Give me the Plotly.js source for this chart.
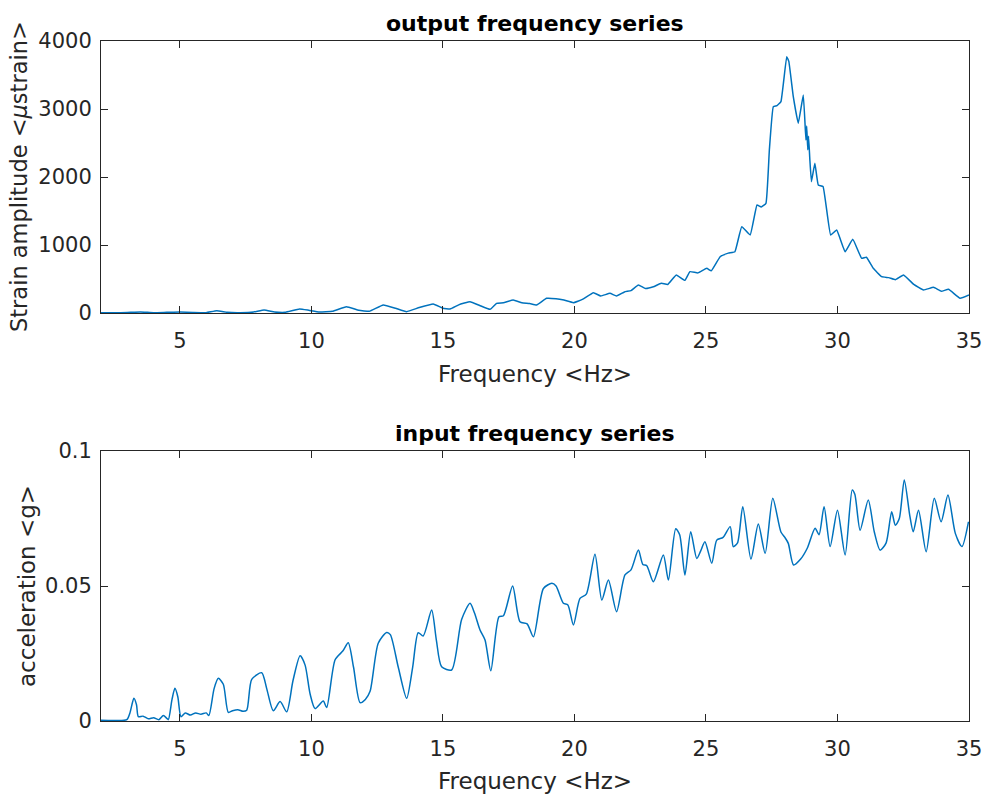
<!DOCTYPE html>
<html>
<head>
<meta charset="utf-8">
<script src="https://cdn.plot.ly/plotly-3.0.1.min.js"></script>
<style>html,body{margin:0;padding:0;background:#fff;}#chart{width:987px;height:797px;}</style>
</head>
<body>
<div id="chart"></div>
<script>
// ---- output frequency series (strain amplitude, microstrain) ----
const freqOut = [2.0,2.5,3.0,3.5,4.0,4.5,5.0,5.5,6.0,6.4,6.8,7.3,7.8,8.2,8.6,9.0,9.55,9.9,10.3,10.8,11.33,11.8,12.2,12.73,13.2,13.62,14.1,14.63,15.0,15.27,15.6,16.03,16.4,16.79,17.04,17.3,17.67,18.0,18.3,18.56,18.94,19.3,19.6,19.96,20.3,20.72,21.0,21.35,21.6,21.9,22.15,22.43,22.7,23.0,23.3,23.55,23.87,24.2,24.39,24.7,25.03,25.2,25.54,25.85,26.1,26.36,26.68,26.94,27.1,27.28,27.41,27.56,27.7,27.85,28.07,28.15,28.32,28.51,28.7,28.8,28.83,28.87,28.9,28.95,29.01,29.14,29.27,29.45,29.74,29.97,30.29,30.58,30.92,31.1,31.36,31.68,31.95,32.2,32.51,32.9,33.27,33.65,33.95,34.22,34.66,35.0];
const strainOut = [5,3,8,15,5,10,15,8,5,34,10,5,15,44,15,10,59,40,15,25,93,40,25,118,70,20,80,132,70,59,120,167,110,54,142,150,191,150,140,118,216,210,190,152,200,299,250,289,250,310,330,412,360,385,436,420,559,480,608,590,657,620,828,880,901,1269,1147,1588,1560,1613,2397,3034,3050,3108,3770,3700,3181,2790,3206,2544,2750,2400,2600,2250,1931,2201,1882,1860,1147,1221,901,1084,804,820,657,534,520,490,559,420,338,377,320,348,216,265];

// ---- input frequency series (acceleration, g) ----
const freqIn = [2.0,2.5,2.98,3.1,3.25,3.35,3.42,3.6,3.8,4.0,4.2,4.37,4.5,4.56,4.7,4.81,4.92,5.04,5.2,5.4,5.6,5.8,6.0,6.1,6.3,6.46,6.65,6.84,7.0,7.2,7.4,7.54,7.73,8.11,8.3,8.55,8.81,9.06,9.3,9.57,9.76,9.95,10.14,10.45,10.58,10.9,11.2,11.4,11.6,11.85,12.05,12.23,12.54,12.86,13.0,13.3,13.62,13.85,14.06,14.25,14.57,14.75,14.95,15.33,15.71,16.03,16.2,16.41,16.6,16.82,17.13,17.3,17.65,17.93,18.2,18.44,18.82,19.14,19.3,19.58,19.75,19.96,20.21,20.45,20.78,21.04,21.29,21.6,21.92,22.15,22.43,22.6,22.75,23.0,23.38,23.57,23.85,24.0,24.2,24.42,24.65,24.8,24.96,25.22,25.41,25.65,25.92,26.04,26.2,26.4,26.71,26.99,27.25,27.54,27.85,28.0,28.13,28.33,28.6,28.85,29.15,29.3,29.49,29.72,30.0,30.29,30.56,30.66,30.86,31.17,31.4,31.62,31.85,32.06,32.2,32.35,32.54,32.75,32.88,33.08,33.37,33.68,33.94,34.2,34.48,34.73,34.98];
const accIn = [0.0003,0.0002,0.0005,0.003,0.0084,0.006,0.0016,0.0018,0.0008,0.0012,0.0005,0.002,0.001,0.0005,0.008,0.0121,0.009,0.0016,0.003,0.0022,0.003,0.0025,0.003,0.002,0.012,0.0158,0.0136,0.0032,0.0038,0.0042,0.0036,0.004,0.0154,0.0179,0.012,0.0038,0.0072,0.0034,0.015,0.0242,0.0207,0.01,0.0046,0.0074,0.005,0.0227,0.026,0.029,0.02,0.0068,0.008,0.011,0.0288,0.0328,0.032,0.02,0.0084,0.02,0.0327,0.0315,0.0411,0.03,0.0201,0.0189,0.0376,0.0436,0.04,0.0337,0.03,0.0186,0.0386,0.039,0.05,0.0368,0.036,0.0312,0.0491,0.051,0.05,0.0436,0.043,0.0356,0.0454,0.047,0.0618,0.0448,0.0522,0.0405,0.0541,0.056,0.0633,0.058,0.0575,0.0516,0.0615,0.0522,0.0712,0.069,0.0541,0.0701,0.0602,0.063,0.0664,0.0584,0.067,0.068,0.072,0.0646,0.066,0.0794,0.06,0.073,0.0621,0.0825,0.07,0.068,0.0658,0.0578,0.06,0.064,0.0714,0.069,0.0794,0.0646,0.0781,0.0615,0.0856,0.084,0.0707,0.0819,0.07,0.0633,0.066,0.0775,0.0725,0.075,0.0893,0.076,0.0701,0.0781,0.0627,0.0825,0.0738,0.0837,0.0695,0.0646,0.0738];

// ---- tick labels ----
const xTickVals = [5,10,15,20,25,30,35];
const yOutTicks = [0,1000,2000,3000,4000];
const yInTicks = [0,0.05,0.1];
const yInTickText = ['0','0.05','0.1'];

const lineColor = '#0072BD';
const axisColor = '#262626';
const FONT = 'DejaVu Sans';

const traces = [
  {x: freqOut, y: strainOut, type: 'scatter', mode: 'lines', xaxis: 'x', yaxis: 'y',
   line: {color: lineColor, width: 1.5, shape: 'spline', smoothing: 0.3}, hoverinfo: 'x+y'},
  {x: freqIn, y: accIn, type: 'scatter', mode: 'lines', xaxis: 'x2', yaxis: 'y2',
   line: {color: lineColor, width: 1.5, shape: 'spline', smoothing: 0.7}, hoverinfo: 'x+y'}
];

function axisBase(standoff) {
  return {
    ticks: 'inside', ticklen: 7, tickwidth: 1, tickcolor: axisColor,
    showline: true, linecolor: axisColor, linewidth: 1, mirror: 'ticks',
    showgrid: false, zeroline: false,
    ticklabelstandoff: standoff,
    tickfont: {family: FONT, size: 21, color: axisColor},
    fixedrange: true
  };
}

const top_dom = [0.6, 1];
const bot_dom = [0, 0.397];

const layout = {
  width: 987, height: 797,
  margin: {l: 101, r: 18, t: 41, b: 76, pad: 0},
  paper_bgcolor: '#ffffff', plot_bgcolor: '#ffffff',
  showlegend: false,
  xaxis: Object.assign(axisBase(9), {domain: [0, 1], anchor: 'y', range: [2, 35], tickmode: 'array', tickvals: xTickVals}),
  yaxis: Object.assign(axisBase(4), {domain: top_dom, anchor: 'x', range: [0, 4000], tickmode: 'array', tickvals: yOutTicks}),
  xaxis2: Object.assign(axisBase(9), {domain: [0, 1], anchor: 'y2', range: [2, 35], tickmode: 'array', tickvals: xTickVals}),
  yaxis2: Object.assign(axisBase(4), {domain: bot_dom, anchor: 'x2', range: [0, 0.1], tickmode: 'array', tickvals: yInTicks, ticktext: yInTickText}),
  annotations: [
    {text: '<b>output frequency series</b>', xref: 'paper', yref: 'paper', x: 0.5, y: 1, xanchor: 'center', yanchor: 'bottom', yshift: 3, showarrow: false,
     font: {family: FONT, size: 22, color: '#000000'}},
    {text: '<b>input frequency series</b>', xref: 'paper', yref: 'paper', x: 0.5, y: bot_dom[1], xanchor: 'center', yanchor: 'bottom', yshift: 3, showarrow: false,
     font: {family: FONT, size: 22, color: '#000000'}},
    {text: 'Frequency &lt;Hz&gt;', xref: 'paper', yref: 'paper', x: 0.5, y: (721 - 374) / 680, xanchor: 'center', yanchor: 'middle', showarrow: false,
     font: {family: FONT, size: 23, color: axisColor}},
    {text: 'Frequency &lt;Hz&gt;', xref: 'paper', yref: 'paper', x: 0.5, y: (721 - 781) / 680, xanchor: 'center', yanchor: 'middle', showarrow: false,
     font: {family: FONT, size: 23, color: axisColor}},
    {text: 'Strain amplitude &lt;<i>μ</i>strain&gt;', xref: 'paper', yref: 'paper', x: (19 - 101) / 868, y: (721 - 177) / 680, xanchor: 'center', yanchor: 'middle', textangle: -90, showarrow: false,
     font: {family: FONT, size: 22.5, color: axisColor}},
    {text: 'acceleration &lt;g&gt;', xref: 'paper', yref: 'paper', x: (27 - 101) / 868, y: (721 - 586) / 680, xanchor: 'center', yanchor: 'middle', textangle: -90, showarrow: false,
     font: {family: FONT, size: 23, color: axisColor}}
  ]
};

Plotly.newPlot('chart', traces, layout, {displayModeBar: false, staticPlot: true});
</script>
</body>
</html>
